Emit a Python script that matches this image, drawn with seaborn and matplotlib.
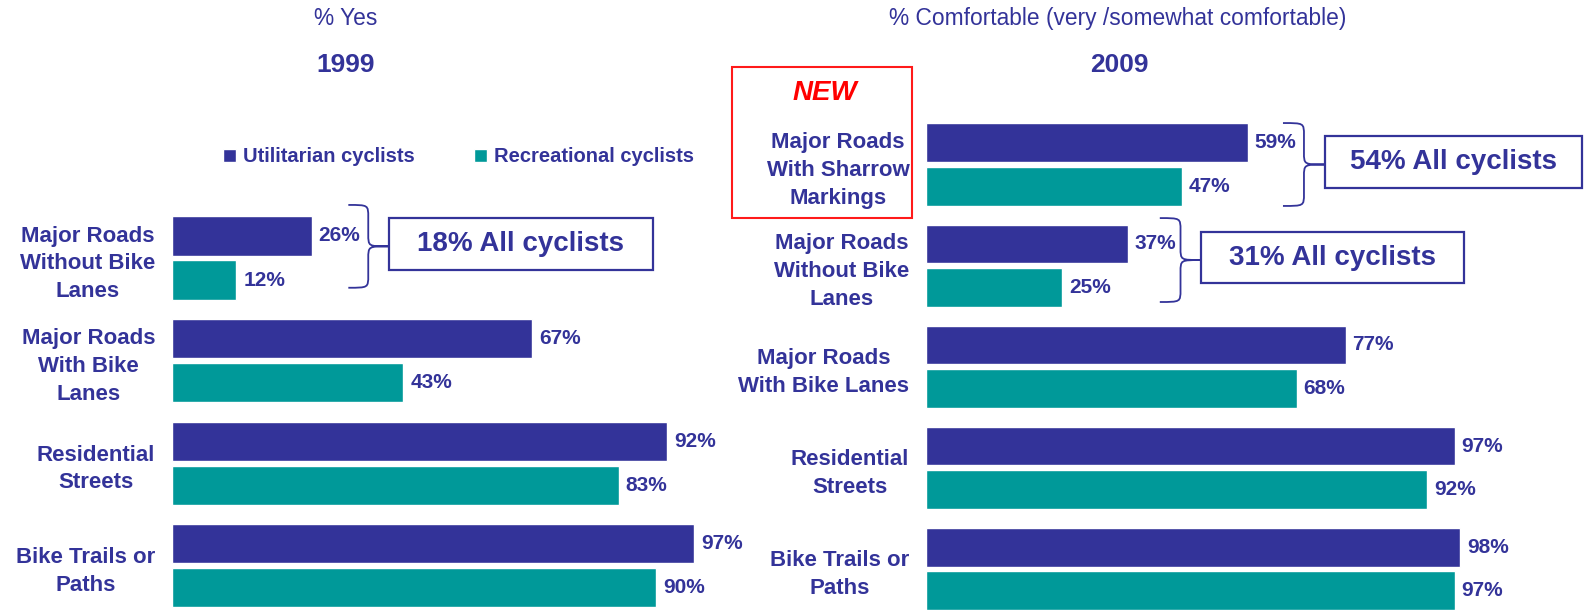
import matplotlib
matplotlib.use("Agg")
import matplotlib.pyplot as plt
import pandas as pd
import seaborn as sns
from matplotlib.path import Path
from matplotlib.patches import PathPatch, Rectangle

# ---- data -------------------------------------------------------------
groups = ["Utilitarian cyclists", "Recreational cyclists"]

rows_1999 = ["Major Roads\nWithout Bike\nLanes", "Major Roads\nWith Bike\nLanes",
             "Residential\nStreets", "Bike Trails or\nPaths"]
util_1999 = [26, 67, 92, 97]
rec_1999 = [12, 43, 83, 90]
all_cyclists_1999 = [18]           # for "Major Roads Without Bike Lanes"

rows_2009 = ["Major Roads\nWith Sharrow\nMarkings", "Major Roads\nWithout Bike\nLanes",
             "Major Roads\nWith Bike Lanes", "Residential\nStreets", "Bike Trails or\nPaths"]
util_2009 = [59, 37, 77, 97, 98]
rec_2009 = [47, 25, 68, 92, 97]
all_cyclists_2009 = [54, 31]       # for the two major-road rows

BLUE = "#333399"
TEAL = "#009999"
RED = "#ff1a1a"

sns.set_theme(style="white")
plt.rcParams["font.family"] = ["Liberation Sans", "DejaVu Sans"]


def long_frame(rows, util, rec):
    return pd.DataFrame({
        "row": rows * 2,
        "group": [groups[0]] * len(rows) + [groups[1]] * len(rows),
        "value": util + rec,
    })


def brace(ax, x0, x1, yt, yb, r):
    """Curly brace opening to the left, pointing right at x1."""
    xm = (x0 + x1) / 2
    ym = (yt + yb) / 2
    verts = [(x0, yt), (xm, yt), (xm, yt), (xm, yt + r),
             (xm, ym - r),
             (xm, ym), (xm, ym), (x1, ym),
             (xm, ym), (xm, ym), (xm, ym + r),
             (xm, yb - r),
             (xm, yb), (xm, yb), (x0, yb)]
    codes = [Path.MOVETO, Path.CURVE4, Path.CURVE4, Path.CURVE4,
             Path.LINETO,
             Path.CURVE4, Path.CURVE4, Path.CURVE4,
             Path.CURVE4, Path.CURVE4, Path.CURVE4,
             Path.LINETO,
             Path.CURVE4, Path.CURVE4, Path.CURVE4]
    ax.add_patch(PathPatch(Path(verts, codes), fill=False, edgecolor=BLUE,
                           lw=1.3, clip_on=False))


def summary_box(ax, x, y, w, h, value):
    ax.add_patch(Rectangle((x, y), w, h, facecolor="white", edgecolor=BLUE,
                           lw=1.6, clip_on=False))
    ax.text(x + w / 2, y + h / 2, f"{value}% All cyclists", ha="center",
            va="center", fontsize=20, fontweight="bold", color=BLUE)


def panel(ax, df, order):
    sns.barplot(data=df, y="row", x="value", hue="group", order=order,
                hue_order=groups, palette=[BLUE, TEAL], saturation=1,
                orient="h", width=0.86, gap=0.11, ax=ax, legend=ax is ax_l)
    ax.set_xlim(0, 100)
    ax.set_ylim(4.5, -0.5)
    ax.set_xlabel("")
    ax.set_ylabel("")
    ax.set_xticks([])
    for s in ax.spines.values():
        s.set_visible(False)
    ax.tick_params(axis="y", length=0, pad=12)
    for lbl in ax.get_yticklabels():
        lbl.set_multialignment("center")
        lbl.set_fontsize(16)
        lbl.set_fontweight("bold")
        lbl.set_color(BLUE)
        lbl.set_linespacing(1.42)
    for cont in ax.containers:
        ax.bar_label(cont, fmt="%d%%", padding=5, fontsize=15,
                     fontweight="bold", color=BLUE)


W, H = 1585, 610
fig = plt.figure(figsize=(W / 100, H / 100), dpi=100)
ax_l = fig.add_axes([171.7 / W, -0.01164, 538.5 / W, 0.841])
ax_r = fig.add_axes([926 / W, -0.0155, 545 / W, 0.8287])

panel(ax_l, long_frame(rows_1999, util_1999, rec_1999), [" "] + rows_1999)
panel(ax_r, long_frame(rows_2009, util_2009, rec_2009), rows_2009)

# legend above the 1999 bars
sns.move_legend(ax_l, "center left", bbox_to_anchor=(223.3 / W, 1 - 157 / H),
                bbox_transform=fig.transFigure, ncol=2, frameon=False,
                title=None, borderpad=0, borderaxespad=0,
                handlelength=0.65, handleheight=0.65, handletextpad=0.35,
                columnspacing=2.9, fontsize=14.5)
for t in ax_l.get_legend().get_texts():
    t.set_color(BLUE)
    t.set_fontweight("bold")

# braces and "All cyclists" boxes
brace(ax_l, 32.8, 40.2, 0.483, 1.29, 0.12)
summary_box(ax_l, 40.4, 0.61, 48.9, 0.51, all_cyclists_1999[0])

brace(ax_r, 65.5, 73.2, -0.41, 0.41, 0.12)
summary_box(ax_r, 73.2, -0.28, 47.2, 0.51, all_cyclists_2009[0])
brace(ax_r, 42.9, 50.5, 0.53, 1.36, 0.12)
summary_box(ax_r, 50.5, 0.67, 48.2, 0.505, all_cyclists_2009[1])

# headings
fig.text(345.5 / W, 1 - 18.3 / H, "% Yes", ha="center", va="center",
         fontsize=16.4, color=BLUE)
fig.text(345.5 / W, 1 - 65 / H, "1999", ha="center", va="center",
         fontsize=19, fontweight="bold", color=BLUE)
fig.text(1118 / W, 1 - 18.3 / H, "% Comfortable (very /somewhat comfortable)",
         ha="center", va="center", fontsize=16.4, color=BLUE)
fig.text(1119 / W, 1 - 65 / H, "2009", ha="center", va="center",
         fontsize=19, fontweight="bold", color=BLUE)

# "NEW" callout around the sharrow row label
fig.add_artist(Rectangle((731.7 / W, 1 - 217.7 / H), 180.6 / W, 151 / H,
                         transform=fig.transFigure, fill=False,
                         edgecolor=RED, lw=1.5))
fig.text(824.7 / W, 1 - 93.3 / H, "NEW", ha="center", va="center",
         fontsize=20, fontweight="bold", fontstyle="italic", color="#ff0000")

fig.savefig("out.png", dpi=100)
